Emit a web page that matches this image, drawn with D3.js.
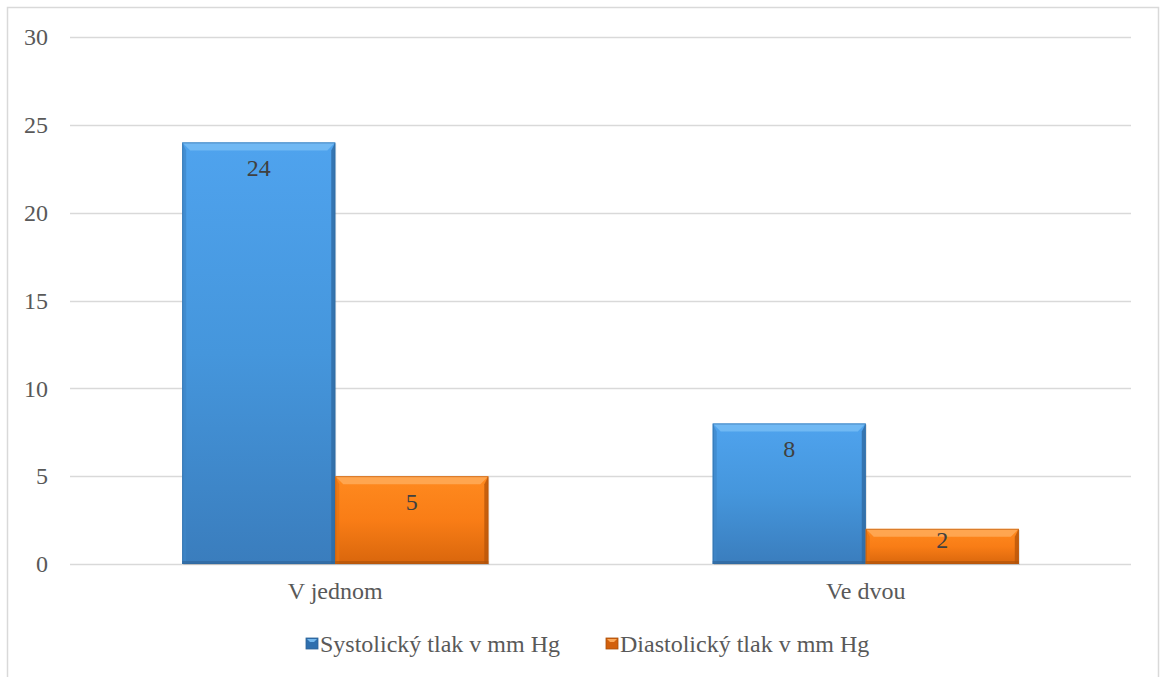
<!DOCTYPE html>
<html>
<head>
<meta charset="utf-8">
<script src="https://cdn.jsdelivr.net/npm/d3@7"></script>
<style>
  html, body { margin: 0; padding: 0; background: #fff; }
  svg { display: block; }
</style>
</head>
<body>
<svg id="chart" width="1160" height="677"></svg>
<script>
// Počet pacientů podle místa měření tlaku
const categories = ["V jednom", "Ve dvou"];
const seriesNames = ["Systolický tlak v mm Hg", "Diastolický tlak v mm Hg"];
const systolic = [24, 8];
const diastolic = [5, 2];
const yTicks = [0, 5, 10, 15, 20, 25, 30];

const FONT = "'Liberation Serif', 'Times New Roman', 'DejaVu Serif', serif";
const FS = 24;

const svg = d3.select("#chart").attr("font-family", FONT);
const W = 1160, H = 677;
const margin = { left: 70, right: 29, top: 37, bottom: 113 };
const plotW = W - margin.left - margin.right;
const plotH = H - margin.top - margin.bottom;

// outer frame
svg.append("rect")
  .attr("x", 7.5).attr("y", 7.5)
  .attr("width", 1151).attr("height", 690)
  .attr("fill", "none").attr("stroke", "#d9d9d9").attr("stroke-width", 1.5);

const g = svg.append("g").attr("transform", `translate(${margin.left},${margin.top})`);

const x0 = d3.scaleBand().domain(categories).range([0, plotW]).paddingInner(0.423).paddingOuter(0.2115);
const x1 = d3.scaleBand().domain(seriesNames).range([0, x0.bandwidth()]).padding(0);
const y = d3.scaleLinear().domain([0, 30]).range([plotH, 0]);

// gridlines
g.append("g").selectAll("line").data(yTicks).join("line")
  .attr("x1", 0).attr("x2", plotW)
  .attr("y1", d => Math.round(y(d)) + 0.5).attr("y2", d => Math.round(y(d)) + 0.5)
  .attr("stroke", "#d9d9d9").attr("stroke-width", 1.5);

// y axis labels
const yAxis = d3.axisLeft(y).tickValues(yTicks).tickSize(0).tickPadding(22);
const ya = g.append("g").call(yAxis).attr("font-family", FONT);
ya.select(".domain").remove();
ya.selectAll("text").attr("font-size", FS).attr("fill", "#595959").attr("font-family", FONT);

// gradients
const defs = svg.append("defs");
const palette = [
  { id: "gBlue", top: "#4fa3ee", mid: "#4596dc", bot: "#3a7dbd", edgeL: "#3f86c8", edgeR: "#2f6aa2", hi: "#7cc0f5", base: "#2e6396", key: "#2f6fae" },
  { id: "gOrange", top: "#ff8a1f", mid: "#f97d16", bot: "#d9660c", edgeL: "#e87310", edgeR: "#b9560a", hi: "#ffb061", base: "#a8500a", key: "#d2600c" }
];
palette.forEach(p => {
  const lg = defs.append("linearGradient").attr("id", p.id).attr("x1", 0).attr("y1", 0).attr("x2", 0).attr("y2", 1);
  lg.append("stop").attr("offset", "0%").attr("stop-color", p.top);
  lg.append("stop").attr("offset", "50%").attr("stop-color", p.mid);
  lg.append("stop").attr("offset", "100%").attr("stop-color", p.bot);
});

const rows = categories.map((c, i) => ({ cat: c, vals: [systolic[i], diastolic[i]] }));
const bev = 8;

rows.forEach(r => {
  r.vals.forEach((v, si) => {
    const p = palette[si];
    const bx = x0(r.cat) + x1(seriesNames[si]);
    const bw = x1.bandwidth();
    const by = y(v);
    const bh = y(0) - y(v);
    const bg = g.append("g");
    // shadow
    bg.append("rect").attr("x", bx + 1).attr("y", by + 1).attr("width", bw).attr("height", bh)
      .attr("fill", "#000").attr("opacity", 0.12);
    bg.append("rect").attr("x", bx).attr("y", by).attr("width", bw).attr("height", bh)
      .attr("fill", `url(#${p.id})`);
    // bevel: top
    bg.append("polygon")
      .attr("points", [[bx, by], [bx + bw, by], [bx + bw - bev, by + bev], [bx + bev, by + bev]].join(" "))
      .attr("fill", p.hi).attr("opacity", 0.75);
    // bevel: left
    bg.append("polygon")
      .attr("points", [[bx, by], [bx + bev * 0.5, by + bev], [bx + bev * 0.5, by + bh], [bx, by + bh]].join(" "))
      .attr("fill", p.edgeL).attr("opacity", 0.7);
    // bevel: right
    bg.append("polygon")
      .attr("points", [[bx + bw, by], [bx + bw - bev * 0.5, by + bev], [bx + bw - bev * 0.5, by + bh], [bx + bw, by + bh]].join(" "))
      .attr("fill", p.edgeR).attr("opacity", 0.8);
    // bevel: bottom
    bg.append("rect").attr("x", bx).attr("y", by + bh - 3).attr("width", bw).attr("height", 3)
      .attr("fill", p.base).attr("opacity", 0.6);
    // outline
    bg.append("rect").attr("x", bx + 0.5).attr("y", by + 0.5).attr("width", bw - 1).attr("height", bh - 1)
      .attr("fill", "none").attr("stroke", p.edgeR).attr("stroke-width", 1).attr("opacity", 0.6);
    // value label, kept inside the bar end
    g.append("text")
      .attr("x", bx + bw / 2).attr("y", by + Math.min(34, bh / 2 + 2))
      .attr("text-anchor", "middle").attr("font-size", FS).attr("fill", "#404040")
      .text(v);
  });
});

// category axis labels
g.append("g").selectAll("text").data(categories).join("text")
  .attr("x", d => x0(d) + x0.bandwidth() / 2).attr("y", plotH + 35)
  .attr("text-anchor", "middle").attr("font-size", FS).attr("fill", "#595959")
  .text(d => d);

// legend
const legend = svg.append("g");
const legX = [306, 606];
seriesNames.forEach((s, i) => {
  const p = palette[i];
  const lx = legX[i], ly = 638;
  legend.append("rect").attr("x", lx).attr("y", ly).attr("width", 12).attr("height", 11)
    .attr("fill", p.key).attr("stroke", p.base).attr("stroke-width", 0.8);
  legend.append("polygon")
    .attr("points", [[lx + 1, ly + 1], [lx + 11, ly + 1], [lx + 8, ly + 4], [lx + 4, ly + 4]].join(" "))
    .attr("fill", p.hi).attr("opacity", 0.9);
  legend.append("text").attr("x", lx + 14).attr("y", 652)
    .attr("font-size", FS).attr("fill", "#595959").text(s);
});
</script>
</body>
</html>
